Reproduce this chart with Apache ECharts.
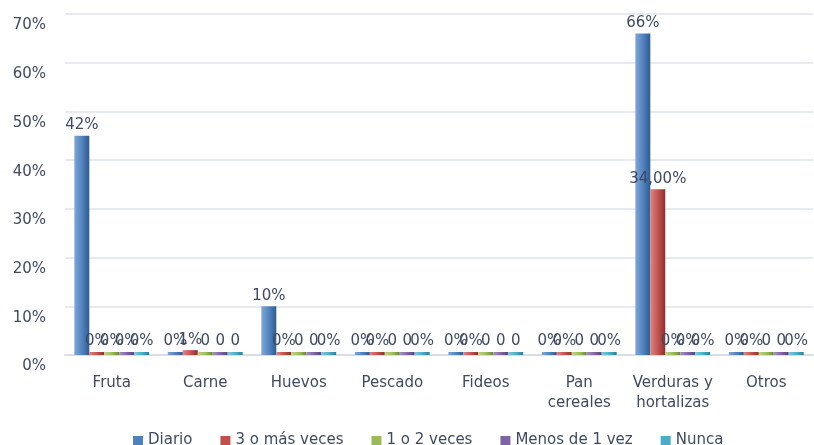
<!DOCTYPE html>
<html>
<head>
<meta charset="utf-8">
<script src="https://cdn.jsdelivr.net/npm/echarts@6/dist/echarts.min.js"></script>
<style>
  html, body { margin: 0; padding: 0; background: #fff; }
  #chart { width: 814px; height: 445px; }
</style>
</head>
<body>
<div id="chart"></div>
<script>
// categorías del eje x
var categorias = ['Fruta', 'Carne', 'Huevos', 'Pescado', 'Fideos', 'Pan\ncereales', 'Verduras y\nhortalizas', 'Otros'];
var nombresSeries = ['Diario', '3 o más veces', '1 o 2 veces', 'Menos de 1 vez', 'Nunca'];
var yTicks = ['0%', '10%', '20%', '30%', '40%', '50%', '60%', '70%'];

var diario       = [45, 0, 10, 0, 0, 0, 66, 0];
var tresOMas     = [0, 1, 0, 0, 0, 0, 34, 0];
var unoODos      = [0, 0, 0, 0, 0, 0, 0, 0];
var menosDeUna   = [0, 0, 0, 0, 0, 0, 0, 0];
var nunca        = [0, 0, 0, 0, 0, 0, 0, 0];

// etiquetas tal como aparecen en el gráfico
var etqDiario     = ['42%', '0%', '10%', '0%', '0%', '0%', '66%', '0%'];
var etqTresOMas   = ['0%', '1%', '0%', '0%', '0%', '0%', '34,00%', '0%'];
var etqUnoODos    = ['0%', '0', '0', '0', '0', '0', '0%', '0'];
var etqMenosDeUna = ['0%', '0', '0', '0', '0', '0', '0%', '0'];
var etqNunca      = ['0%', '0', '0%', '0%', '0', '0%', '0%', '0%'];

var valores = [diario, tresOMas, unoODos, menosDeUna, nunca];
var etiquetas = [etqDiario, etqTresOMas, etqUnoODos, etqMenosDeUna, etqNunca];
var colores = [
  ['#7ea6d8', '#4f81bd', '#2f5b8f'],
  ['#dd8582', '#c0504d', '#8a2f2d'],
  ['#bcd488', '#9bbb59', '#6c8a32'],
  ['#a590c4', '#8064a2', '#58437a'],
  ['#80c8dc', '#4bacc6', '#2b7f96']
];
var textColor = '#3f4a62';
var fuente = 'DejaVu Sans';

var series = nombresSeries.map(function (nombre, i) {
  return {
    name: nombre,
    type: 'bar',
    barGap: '0%',
    barCategoryGap: '20%',
    barMinHeight: 3,
    data: valores[i],
    itemStyle: {
      color: new echarts.graphic.LinearGradient(0, 0, 1, 0, [
        { offset: 0, color: colores[i][0] },
        { offset: 0.55, color: colores[i][1] },
        { offset: 1, color: colores[i][2] }
      ])
    },
    label: {
      show: true,
      position: 'top',
      distance: 3,
      color: textColor,
      fontFamily: fuente,
      fontSize: 15,
      formatter: function (p) { return etiquetas[i][p.dataIndex]; }
    }
  };
});

var chart = echarts.init(document.getElementById('chart'));
chart.setOption({
  animation: false,
  color: colores.map(function (c) { return c[1]; }),
  grid: { left: 65, right: 1, top: 14, bottom: 90, containLabel: false },
  legend: {
    top: 428,
    left: 128,
    itemWidth: 10,
    itemHeight: 9,
    itemGap: 28,
    icon: 'rect',
    textStyle: { color: textColor, fontFamily: fuente, fontSize: 15 },
    data: nombresSeries.map(function (n, i) {
      return { name: n, itemStyle: { color: colores[i][1] } };
    })
  },
  xAxis: {
    type: 'category',
    data: categorias,
    axisLine: { show: true, lineStyle: { color: '#d9dde8', width: 2 } },
    axisTick: { show: false },
    axisLabel: {
      color: textColor,
      fontFamily: fuente,
      fontSize: 15,
      margin: 18,
      lineHeight: 20,
      interval: 0
    }
  },
  yAxis: {
    type: 'value',
    min: 0,
    max: 70,
    interval: 10,
    axisLine: { show: false },
    axisTick: { show: false },
    splitLine: { lineStyle: { color: '#dfe3ec', width: 1.5 } },
    axisLabel: {
      color: textColor,
      fontFamily: fuente,
      fontSize: 15,
      margin: 19,
      verticalAlign: 'top',
      padding: [4, 0, 0, 0],
      formatter: function (v) { return yTicks[v / 10]; }
    }
  },
  series: series
});
</script>
</body>
</html>
